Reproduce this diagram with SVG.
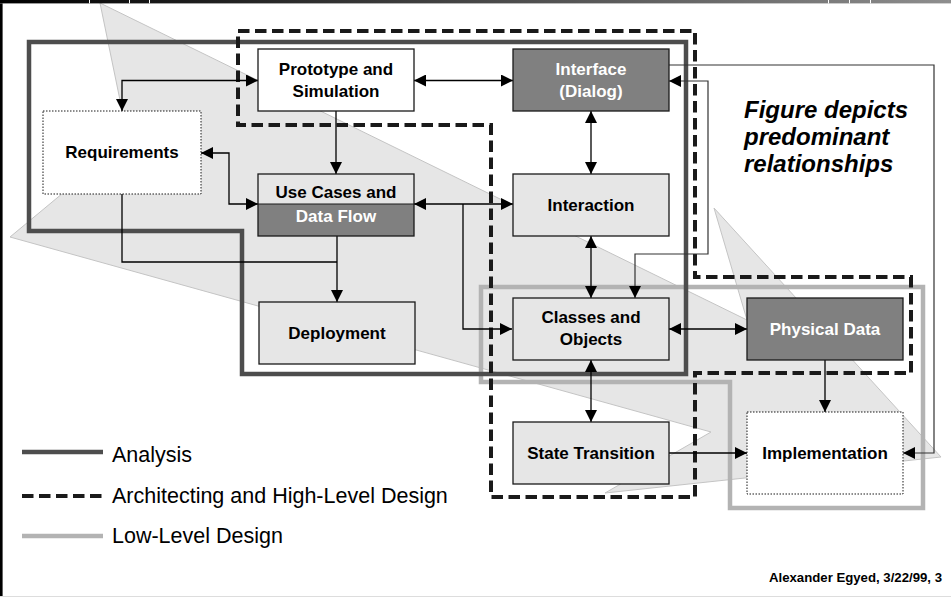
<svg xmlns="http://www.w3.org/2000/svg" width="951" height="598" viewBox="0 0 951 598">
  <defs>
    <linearGradient id="barGrad" x1="0" y1="0" x2="1" y2="0">
      <stop offset="0" stop-color="#000000"/>
      <stop offset="1" stop-color="#8e8e8e"/>
    </linearGradient>
    <marker id="head" viewBox="0 0 12 12" markerWidth="12" markerHeight="12" refX="12" refY="6" orient="auto-start-reverse" markerUnits="userSpaceOnUse">
      <path d="M0,0 L12,6 L0,12 Z" fill="#000"/>
    </marker>
  </defs>
  <style>
    .box { stroke: #1a1a1a; stroke-width: 1.3; }
    .white { fill: #ffffff; }
    .light { fill: #e6e6e6; }
    .dark { fill: #808080; }
    .dotted { fill: #ffffff; stroke: #1a1a1a; stroke-width: 1; stroke-dasharray: 1.5 1.5; }
    .lbl { font-family: "Liberation Sans", Arial, sans-serif; font-size: 17px; font-weight: bold; text-anchor: middle; fill: #000; }
    .lbl.inv { fill: #ffffff; }
    .edge { fill: none; stroke: #000; stroke-width: 1.3; }
    .thin { stroke: #333; stroke-width: 1.2; }
    .both { marker-start: url(#head); marker-end: url(#head); }
    .one { marker-end: url(#head); }
    .analysis { fill: none; stroke: #4d4d4d; stroke-width: 4.5; }
    .arch { fill: none; stroke: #1a1a1a; stroke-width: 4; stroke-dasharray: 11.5 5.5; }
    .low { fill: none; stroke: #b3b3b3; stroke-width: 4.5; }
    .legend { font-family: "Liberation Sans", Arial, sans-serif; font-size: 21.5px; fill: #000; }
  </style>

  <rect x="0" y="0" width="951" height="598" fill="#ffffff"/>

  <!-- large background arrow -->
  <polygon points="100,3 747,320 714,208 941,457 605,493 711,432 10,237 128,139" fill="#e6e6e6" stroke="#c4c4c4" stroke-width="1"/>

  <!-- phase outlines -->
  <g id="phases">
    <path class="low" d="M481,287 H923 V508 H730 V382 H481 Z"/>
    <path class="analysis" d="M29,42 H686 V374 H242 V231 H29 Z"/>
    <path class="arch" d="M238,31 H695 V277 H911 V373 H695 V497 H491 V125 H238 Z"/>
  </g>

  <!-- connectors -->
  <g id="connectors">
    <path class="edge both" d="M258,80.5 H122 V111"/>
    <path class="edge both" d="M414,80.5 H513"/>
    <path class="edge one" d="M336,111 V174"/>
    <path class="edge both" d="M201,153 H229 V204 H258"/>
    <path class="edge both" d="M414,204 H513"/>
    <path class="edge one" d="M463,204 V329 H512"/>
    <path class="edge both" d="M591,111 V174"/>
    <path class="edge both" d="M591,236 V298"/>
    <path class="edge both" d="M591,360 V422"/>
    <path class="edge both" d="M669,329 H747"/>
    <path class="edge one" d="M825,360 V412"/>
    <path class="edge one" d="M669,453 H747"/>
    <path class="edge thin one" d="M669,65 H934 V453 H903"/>
    <path class="edge thin both" d="M669,81 H708 V254 H635 V298"/>
    <path class="edge" d="M122,194 V262 H337"/>
    <path class="edge one" d="M337,236 V302"/>
  </g>

  <!-- nodes -->
  <g id="prototype">
    <rect class="box white" x="258" y="49" width="156" height="62"/>
    <text class="lbl" x="336" y="75">Prototype and</text>
    <text class="lbl" x="336" y="97">Simulation</text>
  </g>
  <g id="interface">
    <rect class="box dark" x="513" y="49" width="156" height="62"/>
    <text class="lbl inv" x="591" y="75">Interface</text>
    <text class="lbl inv" x="591" y="97">(Dialog)</text>
  </g>
  <g id="requirements">
    <rect class="dotted" x="43" y="111" width="158" height="83"/>
    <text class="lbl" x="122" y="158">Requirements</text>
  </g>
  <g id="usecases">
    <rect class="light" x="258" y="174" width="156" height="30"/>
    <rect class="dark" x="258" y="204" width="156" height="32"/>
    <rect class="box" fill="none" x="258" y="174" width="156" height="62"/>
    <line x1="258" y1="204" x2="414" y2="204" stroke="#1a1a1a" stroke-width="1"/>
    <text class="lbl" x="336" y="198">Use Cases and</text>
    <text class="lbl inv" x="336" y="222">Data Flow</text>
  </g>
  <g id="interaction">
    <rect class="box light" x="513" y="174" width="156" height="62"/>
    <text class="lbl" x="591" y="211">Interaction</text>
  </g>
  <g id="deployment">
    <rect class="box light" x="259" y="302" width="156" height="62"/>
    <text class="lbl" x="337" y="339">Deployment</text>
  </g>
  <g id="classes">
    <rect class="box light" x="513" y="298" width="156" height="62"/>
    <text class="lbl" x="591" y="323">Classes and</text>
    <text class="lbl" x="591" y="345">Objects</text>
  </g>
  <g id="physical">
    <rect class="box dark" x="747" y="298" width="156" height="62"/>
    <text class="lbl inv" x="825" y="335">Physical Data</text>
  </g>
  <g id="statetransition">
    <rect class="box light" x="513" y="422" width="156" height="62"/>
    <text class="lbl" x="591" y="459">State Transition</text>
  </g>
  <g id="implementation">
    <rect class="dotted" x="747" y="412" width="156" height="82"/>
    <text class="lbl" x="825" y="459">Implementation</text>
  </g>

  <!-- note -->
  <g id="note" font-family="Liberation Sans, Arial, sans-serif" font-size="24" font-weight="bold" font-style="italic" fill="#000">
    <text x="744" y="118">Figure depicts</text>
    <text x="744" y="145">predominant</text>
    <text x="744" y="172">relationships</text>
  </g>

  <!-- legend -->
  <g id="legend">
    <line class="analysis" x1="22" y1="452" x2="103" y2="452" stroke-width="4"/>
    <text class="legend" x="112" y="462">Analysis</text>
    <line class="arch" x1="22" y1="496" x2="103" y2="496"/>
    <text class="legend" x="112" y="503">Architecting and High-Level Design</text>
    <line class="low" x1="22" y1="536" x2="103" y2="536" stroke-width="4"/>
    <text class="legend" x="112" y="543">Low-Level Design</text>
  </g>

  <text x="942" y="582" font-family="Liberation Sans, Arial, sans-serif" font-size="13.2" font-weight="bold" text-anchor="end" fill="#000">Alexander Egyed, 3/22/99, 3</text>

  <!-- page frame -->
  <rect x="0" y="0" width="951" height="3.4" fill="url(#barGrad)"/>
  <g stroke="#ffffff" stroke-width="1">
    <line x1="89.5" y1="0" x2="89.5" y2="3.4"/>
    <line x1="129.5" y1="0" x2="129.5" y2="3.4"/>
    <line x1="149.5" y1="0" x2="149.5" y2="3.4"/>
    <line x1="828.5" y1="0" x2="828.5" y2="3.4"/>
    <line x1="849.5" y1="0" x2="849.5" y2="3.4"/>
    <line x1="870.5" y1="0" x2="870.5" y2="3.4"/>
  </g>
  <rect x="0" y="3.4" width="2.6" height="593" fill="#000"/>
  <line x1="0" y1="596.5" x2="951" y2="596.5" stroke="#dddddd" stroke-width="1"/>
</svg>
